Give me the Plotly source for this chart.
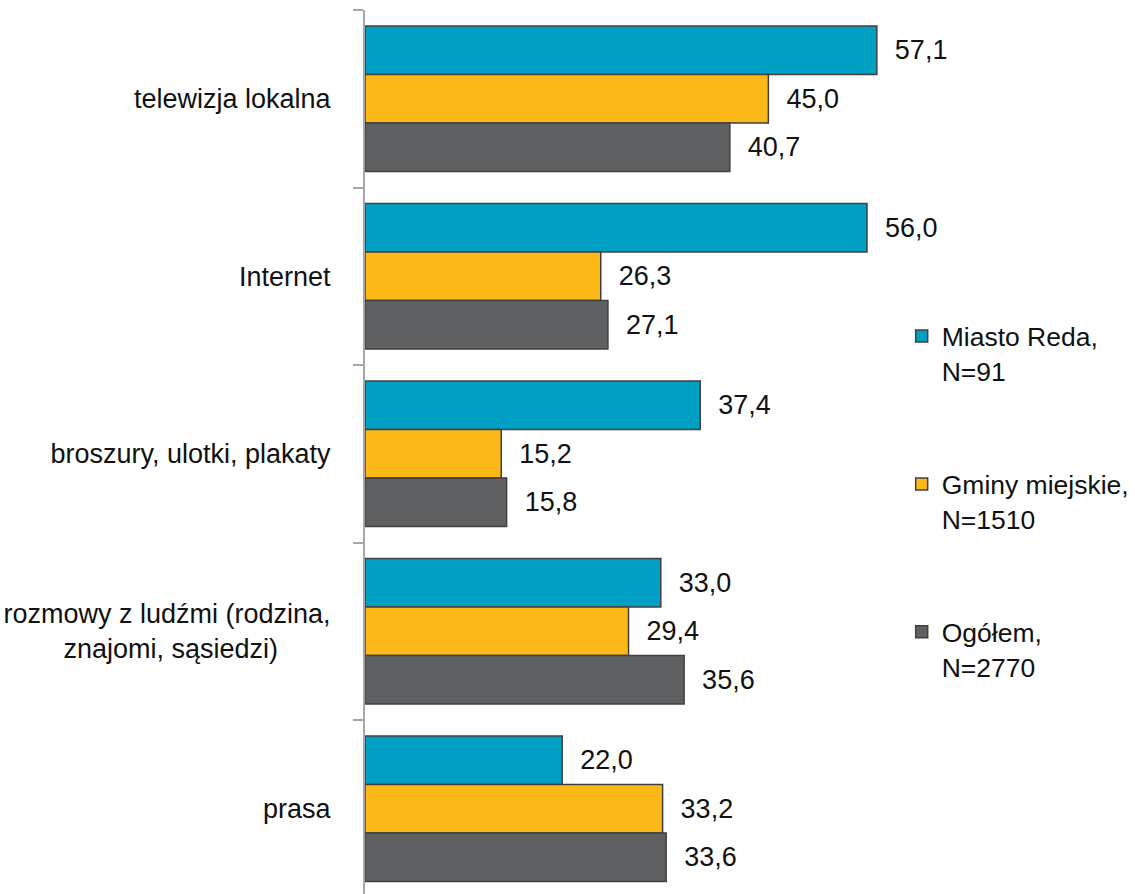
import plotly.graph_objects as go

categories = [
    "telewizja lokalna",
    "Internet",
    "broszury, ulotki, plakaty",
    "rozmowy z ludźmi (rodzina,<br>znajomi, sąsiedzi)\u00a0\u00a0\u00a0\u00a0\u00a0\u00a0\u00a0",
    "prasa",
]
series_names = ["Miasto Reda,<br>N=91", "Gminy miejskie,<br>N=1510", "Ogółem,<br>N=2770"]
reda = [57.1, 56.0, 37.4, 33.0, 22.0]
gminy = [45.0, 26.3, 15.2, 29.4, 33.2]
ogolem = [40.7, 27.1, 15.8, 35.6, 33.6]
colors = ["#00A0C4", "#FBB816", "#5F6062"]

fig = go.Figure()
for i, (name, vals) in enumerate(zip(series_names, [reda, gminy, ogolem])):
    fig.add_trace(go.Bar(
        y=categories, x=vals, orientation="h", name=name,
        legendgroup=str(i),
        marker=dict(color=colors[i], line=dict(color="#404040", width=1.5)),
        text=["\u00a0\u00a0" + f"{v:.1f}".replace(".", ",") for v in vals],
        textposition="outside", constraintext="none", cliponaxis=False,
        textfont=dict(size=27, color="#111111", family="Liberation Sans, Arial"),
    ))

fig.update_layout(
    width=1135, height=894,
    margin=dict(l=365, r=0, t=10, b=0, autoexpand=False),
    plot_bgcolor="white", paper_bgcolor="white",
    barmode="group", bargap=0.18, bargroupgap=0,
    font=dict(family="Liberation Sans, Arial", size=27, color="#111111"),
    showlegend=True,
    legend=dict(x=0.697, y=0.658, xanchor="left", yanchor="top",
                tracegroupgap=76, valign="top", traceorder="grouped",
                bgcolor="rgba(0,0,0,0)", font=dict(size=26.5)),
)
fig.update_xaxes(range=[0, 85.9], showgrid=False, zeroline=False,
                 showticklabels=False, showline=False)
fig.update_yaxes(range=[4.48, -0.5], showline=True, linecolor="#A6A6A6", linewidth=2,
                 ticks="outside", tickson="boundaries", ticklen=10, tickwidth=2,
                 tickcolor="#A6A6A6", ticklabelstandoff=27, showgrid=False)

fig.write_html("out.html", config={"displayModeBar": False},
               post_script="document.body.style.margin='0';")
